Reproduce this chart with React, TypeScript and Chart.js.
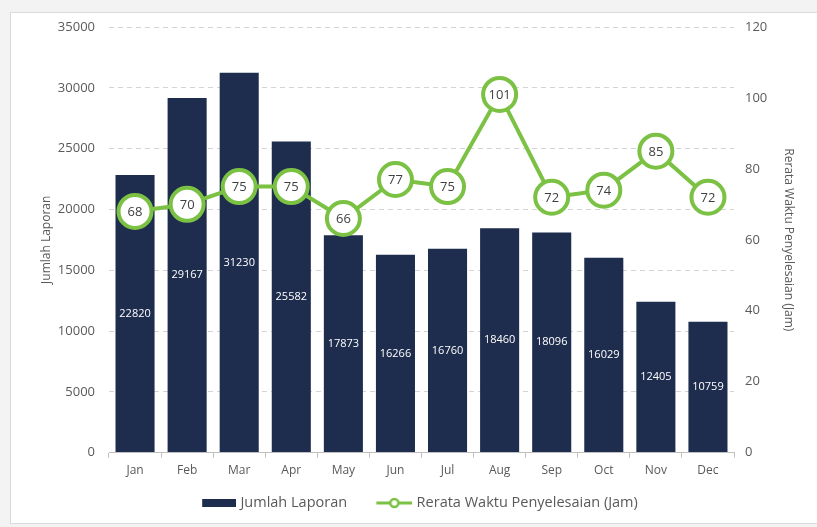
import React, { useEffect, useRef } from "react";
import { Chart, registerables } from "chart.js";

Chart.register(...registerables);

const months = ["Jan", "Feb", "Mar", "Apr", "May", "Jun", "Jul", "Aug", "Sep", "Oct", "Nov", "Dec"];
const jumlahLaporan = [22820, 29167, 31230, 25582, 17873, 16266, 16760, 18460, 18096, 16029, 12405, 10759];
const rerataWaktu = [68, 70, 75, 75, 66, 77, 75, 101, 72, 74, 85, 72];
const barLabel = "Jumlah Laporan";
const lineLabel = "Rerata Waktu Penyelesaian (Jam)";
const leftAxisMax = 35000;
const leftAxisStep = 5000;
const rightAxisMax = 120;
const rightAxisStep = 20;

const NAVY = "#1e2d4d";
const GREEN = "#7bc143";
const TEXT = "#595959";
const FONT = "'Open Sans', 'Noto Sans', sans-serif";
const BOX = 36;

function makeSwatch(kind: "bar" | "line"): HTMLCanvasElement {
  const c = document.createElement("canvas");
  const W = BOX + 6;
  const H = 12;
  c.width = W;
  c.height = H;
  const g = c.getContext("2d")!;
  if (kind === "bar") {
    g.fillStyle = NAVY;
    g.fillRect(W - 34, 2, 34, 8);
  } else {
    g.strokeStyle = GREEN;
    g.lineWidth = 3;
    g.beginPath();
    g.moveTo(W - 36, 6);
    g.lineTo(W, 6);
    g.stroke();
    g.beginPath();
    g.arc(W - 18, 6, 4, 0, Math.PI * 2);
    g.fillStyle = "#ffffff";
    g.fill();
    g.lineWidth = 2.5;
    g.stroke();
  }
  return c;
}

const valueLabels = {
  id: "valueLabels",
  afterDatasetsDraw(chart: any) {
    const ctx = chart.ctx as CanvasRenderingContext2D;
    ctx.save();
    ctx.textAlign = "center";
    ctx.textBaseline = "middle";
    const barMeta = chart.getDatasetMeta(0);
    ctx.font = `11px ${FONT}`;
    ctx.fillStyle = "#ffffff";
    barMeta.data.forEach((el: any, i: number) => {
      const p = el.getProps(["x", "y", "base"], true);
      ctx.fillText(String(chart.data.datasets[0].data[i]), p.x, (p.y + p.base) / 2);
    });
    const lineMeta = chart.getDatasetMeta(1);
    ctx.font = `13px ${FONT}`;
    ctx.fillStyle = "#404040";
    lineMeta.data.forEach((el: any, i: number) => {
      ctx.fillText(String(chart.data.datasets[1].data[i]), el.x, el.y + 1);
    });
    ctx.restore();
  },
};

export default function App() {
  const ref = useRef<HTMLCanvasElement>(null);

  useEffect(() => {
    if (!ref.current) return;
    const barSwatch = makeSwatch("bar");
    const lineSwatch = makeSwatch("line");
    const chart = new Chart(ref.current, {
      type: "bar",
      data: {
        labels: months,
        datasets: [
          {
            type: "bar",
            label: barLabel,
            data: jumlahLaporan,
            backgroundColor: NAVY,
            barPercentage: 0.75,
            categoryPercentage: 1,
            yAxisID: "y",
            order: 2,
          } as any,
          {
            type: "line",
            label: lineLabel,
            data: rerataWaktu,
            borderColor: GREEN,
            borderWidth: 4,
            pointRadius: 16.5,
            pointHoverRadius: 16.5,
            pointBorderWidth: 4,
            pointBackgroundColor: "#ffffff",
            pointBorderColor: GREEN,
            yAxisID: "y1",
            order: 1,
            tension: 0,
          } as any,
        ],
      },
      options: {
        animation: false,
        responsive: false,
        events: [],
        layout: { padding: { left: 35, right: 17, top: 27, bottom: 6.75 } },
        font: { family: FONT },
        plugins: {
          tooltip: { enabled: false },
          legend: {
            position: "bottom",
            labels: {
              usePointStyle: true,
              pointStyleWidth: BOX,
              padding: 11.75,
              color: TEXT,
              font: { family: FONT, size: 14.5 },
              generateLabels: () => [
                {
                  text: barLabel + "\u2003",
                  pointStyle: barSwatch,
                  datasetIndex: 0,
                  fillStyle: NAVY,
                  strokeStyle: NAVY,
                  lineWidth: 0,
                  hidden: false,
                  fontColor: TEXT,
                } as any,
                {
                  text: lineLabel,
                  pointStyle: lineSwatch,
                  datasetIndex: 1,
                  fillStyle: "#fff",
                  strokeStyle: GREEN,
                  lineWidth: 0,
                  hidden: false,
                  fontColor: TEXT,
                } as any,
              ],
            },
          },
        },
        scales: {
          x: {
            offset: true,
            grid: {
              display: true,
              offset: true,
              drawOnChartArea: false,
              drawTicks: true,
              tickLength: 5,
              color: "#bfbfbf",
            },
            border: { display: true, color: "#bfbfbf" },
            ticks: { color: TEXT, font: { family: FONT, size: 12 }, padding: 6 },
          },
          y: {
            position: "left",
            min: 0,
            max: leftAxisMax,
            ticks: {
              stepSize: leftAxisStep,
              color: TEXT,
              font: { family: FONT, size: 13 },
              padding: 14,
              callback: (v: any) => String(v),
            },
            grid: { color: "#d4d4d4", drawTicks: false },
            border: { display: false, dash: [5, 4] },
            title: {
              display: true,
              text: barLabel,
              color: TEXT,
              font: { family: FONT, size: 12 },
            },
            afterFit: (s: any) => {
              s.width = 74;
            },
          },
          y1: {
            position: "right",
            min: 0,
            max: rightAxisMax,
            ticks: {
              stepSize: rightAxisStep,
              color: TEXT,
              font: { family: FONT, size: 13 },
              padding: 11,
              callback: (v: any) => String(v),
            },
            grid: { drawOnChartArea: false, drawTicks: false },
            border: { display: false },
            title: {
              display: true,
              text: lineLabel,
              color: TEXT,
              font: { family: FONT, size: 12 },
            },
            afterFit: (s: any) => {
              s.width = 66;
            },
          },
        },
      } as any,
      plugins: [valueLabels],
    });
    return () => chart.destroy();
  }, []);

  return (
    <div
      style={{
        position: "absolute",
        left: 0,
        top: 0,
        width: 817,
        height: 527,
        background: "#f3f3f3",
        overflow: "hidden",
      }}
    >
      <div
        style={{
          position: "absolute",
          left: 10,
          top: 12,
          width: 830,
          height: 512,
          background: "#ffffff",
          border: "1px solid #dadada",
          boxSizing: "border-box",
        }}
      />
      <canvas
        ref={ref}
        width={817}
        height={527}
        style={{ position: "absolute", left: 0, top: 0, width: 817, height: 527 }}
      />
    </div>
  );
}
